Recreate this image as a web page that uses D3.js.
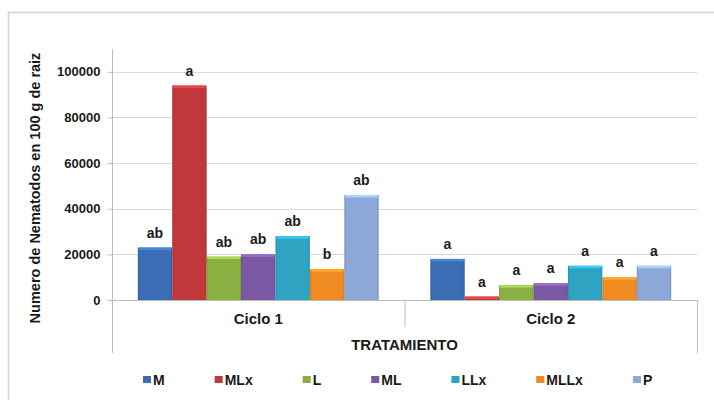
<!DOCTYPE html>
<html>
<head>
<meta charset="utf-8">
<script src="https://cdn.jsdelivr.net/npm/d3@7"></script>
<style>
  html, body { margin: 0; padding: 0; background: #fff; }
  svg text { font-family: "Liberation Sans", Arial, sans-serif; font-weight: bold; fill: #1a1a1a; }
</style>
</head>
<body>
<svg id="chart" width="714" height="400"></svg>
<script>
const categories = ["Ciclo 1", "Ciclo 2"];
const seriesNames = ["M", "MLx", "L", "ML", "LLx", "MLLx", "P"];
const seriesColors = ["#3B6DB4", "#C0383A", "#8AB042", "#7A58A3", "#2EA3C2", "#F08A22", "#8BA8D9"];
const ciclo1Values = [23000, 94000, 19000, 20000, 28000, 13500, 46000];
const ciclo2Values = [18000, 1500, 6500, 7300, 15000, 10000, 15000];
const ciclo1Letters = ["ab", "a", "ab", "ab", "ab", "b", "ab"];
const ciclo2Letters = ["a", "a", "a", "a", "a", "a", "a"];
const yTickValues = [0, 20000, 40000, 60000, 80000, 100000];
const yAxisTitle = "Numero de Nematodos en 100 g de raiz";
const xAxisTitle = "TRATAMIENTO";

const rows = categories.map((c, i) => ({
  cat: c,
  values: seriesNames.map((s, j) => ({
    s, j,
    v: (i === 0 ? ciclo1Values : ciclo2Values)[j],
    letter: (i === 0 ? ciclo1Letters : ciclo2Letters)[j]
  }))
}));

const svg = d3.select("#chart");
const plot = { left: 112, right: 697, top: 49, bottom: 300 };

// outer chart border
svg.append("rect").attr("x", 8.5).attr("y", 12.5).attr("width", 730).attr("height", 420)
  .attr("fill", "none").attr("stroke", "#d4d4d4").attr("stroke-width", 1.6);

const y = d3.scaleLinear().domain([0, 110000]).range([plot.bottom, plot.top]);
const x0 = d3.scaleBand().domain(categories).range([plot.left, plot.right]).padding(0);
const x1 = d3.scaleBand().domain(seriesNames).range([0, x0.bandwidth()]).paddingInner(0).paddingOuter(0.75);

// gradients for bevel look
const defs = svg.append("defs");
seriesColors.forEach((c, i) => {
  const g = defs.append("linearGradient").attr("id", "g" + i).attr("x1", 0).attr("x2", 1).attr("y1", 0).attr("y2", 0);
  const dark = d3.color(c).darker(0.35);
  g.append("stop").attr("offset", "0%").attr("stop-color", dark);
  g.append("stop").attr("offset", "6%").attr("stop-color", c);
  g.append("stop").attr("offset", "94%").attr("stop-color", c);
  g.append("stop").attr("offset", "100%").attr("stop-color", dark);
});

// gridlines
svg.append("g").selectAll("line").data(yTickValues.filter(d => d > 0)).join("line")
  .attr("x1", plot.left).attr("x2", plot.right)
  .attr("y1", d => Math.round(y(d)) + 0.5).attr("y2", d => Math.round(y(d)) + 0.5)
  .attr("stroke", "#d9d9d9").attr("stroke-width", 1.2);

// y axis
const yAxis = d3.axisLeft(y).tickValues(yTickValues).tickSize(5).tickPadding(7).tickFormat(d3.format("d"));
const gy = svg.append("g").attr("transform", `translate(${plot.left + 0.5},0)`).call(yAxis);
gy.select(".domain").attr("stroke", "#bdbdbd").attr("d", `M0,${plot.top}V${plot.bottom + 53}`);
gy.selectAll(".tick line").attr("stroke", "#bdbdbd");
gy.selectAll(".tick text").attr("font-size", 13).attr("fill", "#1a1a1a")
  .attr("font-family", "Liberation Sans, Arial, sans-serif").attr("font-weight", "bold");

// bars
const groups = svg.append("g").selectAll("g").data(rows).join("g")
  .attr("transform", d => `translate(${x0(d.cat)},0)`);
groups.selectAll("rect.bar").data(d => d.values).join("rect").attr("class", "bar")
  .attr("x", d => x1(d.s)).attr("width", x1.bandwidth())
  .attr("y", d => y(d.v)).attr("height", d => y(0) - y(d.v))
  .attr("fill", d => `url(#g${d.j})`);
groups.selectAll("rect.hl").data(d => d.values).join("rect").attr("class", "hl")
  .attr("x", d => x1(d.s) + 1).attr("width", x1.bandwidth() - 2)
  .attr("y", d => y(d.v)).attr("height", d => Math.min(2.5, y(0) - y(d.v)))
  .attr("fill", d => d3.color(seriesColors[d.j]).brighter(0.6));
groups.selectAll("text").data(d => d.values).join("text")
  .attr("x", d => x1(d.s) + x1.bandwidth() / 2)
  .attr("y", d => y(d.v) - 10)
  .attr("text-anchor", "middle").attr("font-size", 14)
  .text(d => d.letter);

// category axis
const ax = svg.append("g");
ax.append("line").attr("x1", plot.left).attr("x2", plot.right).attr("y1", plot.bottom + 0.5).attr("y2", plot.bottom + 0.5)
  .attr("stroke", "#bdbdbd").attr("stroke-width", 1);
ax.append("line").attr("x1", x0("Ciclo 2") + 0.5).attr("x2", x0("Ciclo 2") + 0.5).attr("y1", plot.bottom).attr("y2", plot.bottom + 27)
  .attr("stroke", "#bdbdbd");
ax.append("line").attr("x1", plot.right + 0.5).attr("x2", plot.right + 0.5).attr("y1", plot.bottom).attr("y2", plot.bottom + 53)
  .attr("stroke", "#bdbdbd");
ax.selectAll("text").data(categories).join("text")
  .attr("x", d => x0(d) + x0.bandwidth() / 2).attr("y", plot.bottom + 24)
  .attr("text-anchor", "middle").attr("font-size", 15).text(d => d);

svg.append("text").attr("x", (plot.left + plot.right) / 2).attr("y", plot.bottom + 49.5)
  .attr("text-anchor", "middle").attr("font-size", 15).text(xAxisTitle);

svg.append("text").attr("transform", `translate(35,188) rotate(-90)`)
  .attr("text-anchor", "middle").attr("dominant-baseline", "central").attr("font-size", 14.5).text(yAxisTitle);

// legend
const legend = svg.append("g").attr("transform", "translate(143,376)");
let lx = 0;
seriesNames.forEach((s, i) => {
  const item = legend.append("g").attr("transform", `translate(${lx},0)`);
  item.append("rect").attr("width", 8).attr("height", 7).attr("fill", `url(#g${i})`);
  const t = item.append("text").attr("x", 10).attr("y", 8.5).attr("font-size", 14).text(s);
  lx += t.node().getComputedTextLength() + 60;
});
</script>
</body>
</html>
